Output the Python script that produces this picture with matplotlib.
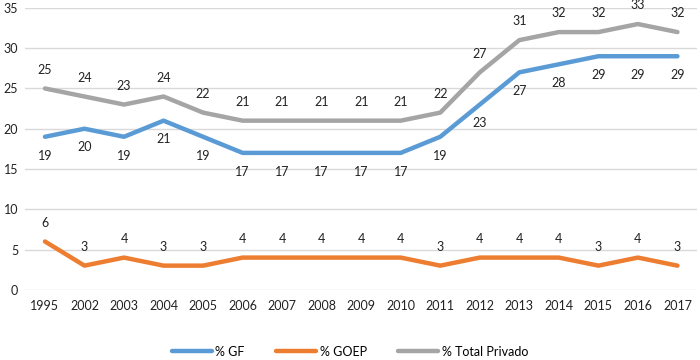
import matplotlib.pyplot as plt
import numpy as np

plt.rcParams['font.family'] = ['Lato', 'DejaVu Sans']

anos = ['1995', '2002', '2003', '2004', '2005', '2006', '2007', '2008', '2009',
        '2010', '2011', '2012', '2013', '2014', '2015', '2016', '2017']
gf = [19, 20, 19, 21, 19, 17, 17, 17, 17, 17, 19, 23, 27, 28, 29, 29, 29]
goep = [6, 3, 4, 3, 3, 4, 4, 4, 4, 4, 3, 4, 4, 4, 3, 4, 3]
total_privado = [25, 24, 23, 24, 22, 21, 21, 21, 21, 21, 22, 27, 31, 32, 32, 33, 32]

fig = plt.figure(figsize=(7, 3.6), dpi=100)
ax = fig.add_axes([0.036, 0.195, 0.96, 0.783])

x = np.arange(len(anos))
series = [
    (gf, '% GF', '#5B9BD5', -1),
    (goep, '% GOEP', '#ED7D31', 1),
    (total_privado, '% Total Privado', '#A5A5A5', 1),
]
for vals, nome, cor, lado in series:
    ax.plot(x, vals, color=cor, lw=3.2, label=nome, solid_capstyle='round', zorder=3)
    for xi, v in zip(x, vals):
        ax.annotate(str(v), (xi, v), xytext=(0, 13.5 * lado), textcoords='offset points',
                    ha='center', va='center', fontsize=9, color='#222222')

ax.set_xlim(-0.5, len(anos) - 0.5)
ax.set_ylim(0, 35)
ax.set_yticks(range(0, 36, 5))
ax.set_xticks(x)
ax.set_xticklabels(anos)
ax.grid(axis='y', color='#D9D9D9', lw=1)
ax.set_axisbelow(True)
for s in ax.spines.values():
    s.set_visible(False)
ax.tick_params(length=0, labelsize=9, colors='#222222')
ax.tick_params(axis='x', pad=7)
ax.tick_params(axis='y', pad=5)

fig.legend(loc='lower center', bbox_to_anchor=(0.5, -0.025), ncol=3, frameon=False,
           fontsize=9, handlelength=3.2, handletextpad=0.3, columnspacing=2.5)

fig.savefig('out.png')
